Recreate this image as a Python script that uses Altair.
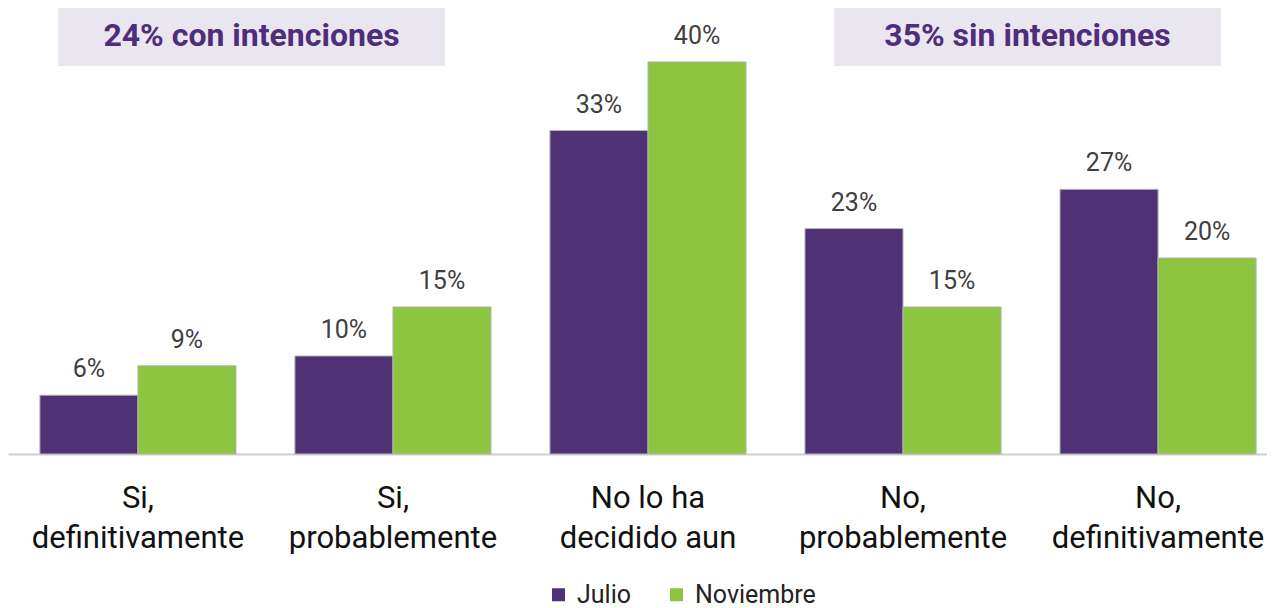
import altair as alt
import pandas as pd

categories = ["Si,|definitivamente", "Si,|probablemente", "No lo ha|decidido aun",
              "No,|probablemente", "No,|definitivamente"]
series = ["Julio", "Noviembre"]
julio = [6, 10, 33, 23, 27]
noviembre = [9, 15, 40, 15, 20]
box_left = "24% con intenciones"
box_right = "35% sin intenciones"

rows = []
for c, j, n in zip(categories, julio, noviembre):
    rows.append({"cat": c, "serie": "Julio", "val": j, "lab": f"{j}%"})
    rows.append({"cat": c, "serie": "Noviembre", "val": n, "lab": f"{n}%"})
df = pd.DataFrame(rows)

FONT = "Roboto"
W, H = 1259, 446

xs = alt.X("cat:N", sort=categories, title=None,
           scale=alt.Scale(range=[0, 1280], paddingInner=0.231, paddingOuter=0.125),
           axis=alt.Axis(labelAngle=0, ticks=False, domainColor="#d0d0d0", domainWidth=2,
                         labelExpr="split(datum.label, '|')", labelFont=FONT,
                         labelFontSize=31, labelColor="#111111", labelLineHeight=40,
                         labelPadding=29, labelBaseline="top", labelLimit=400))
ys = alt.Y("val:Q", scale=alt.Scale(domain=[0, 45.5], nice=False, zero=True),
           axis=None, title=None)
color = alt.Color("serie:N", sort=series,
                  scale=alt.Scale(domain=series, range=["#4F3175", "#8DC541"]),
                  legend=alt.Legend(title=None, orient="none", legendX=538, legendY=574,
                                    direction="horizontal", symbolType="square",
                                    symbolSize=169, symbolStrokeWidth=0,
                                    labelFont=FONT, labelFontSize=25, labelColor="#222222",
                                    labelOffset=6, columnPadding=33))
xoff = alt.XOffset("serie:N", sort=series)

base = alt.Chart(df)
bars = base.mark_bar(stroke="#b5b5b5", strokeWidth=1).encode(x=xs, y=ys, color=color, xOffset=xoff)
labels = base.mark_text(font=FONT, fontSize=25, color="#404040", dy=-18,
                        baseline="alphabetic").encode(x=xs, y=ys, xOffset=xoff, text="lab:N")

def box(txt, x0, x1):
    d = pd.DataFrame({"t": [txt]})
    r = alt.Chart(d).mark_rect(color="#EAE6F0").encode(
        x=alt.value(x0), x2=alt.value(x1), y=alt.value(0), y2=alt.value(58))
    t = alt.Chart(d).mark_text(font=FONT, fontSize=32, fontWeight="bold", color="#4E2D7A",
                               baseline="middle").encode(
        x=alt.value((x0 + x1) / 2), y=alt.value(28), text="t:N")
    return r + t

chart = alt.layer(bars, labels, box(box_left, 50, 437), box(box_right, 826, 1213)).properties(
    width=W, height=H,
    autosize=alt.AutoSizeParams(type="none"),
    padding={"left": 0, "top": 0, "right": 0, "bottom": 154},
).configure_view(stroke=None).configure_axis(grid=False)

chart.save("out.html", embed_options={"renderer": "svg", "actions": False})
